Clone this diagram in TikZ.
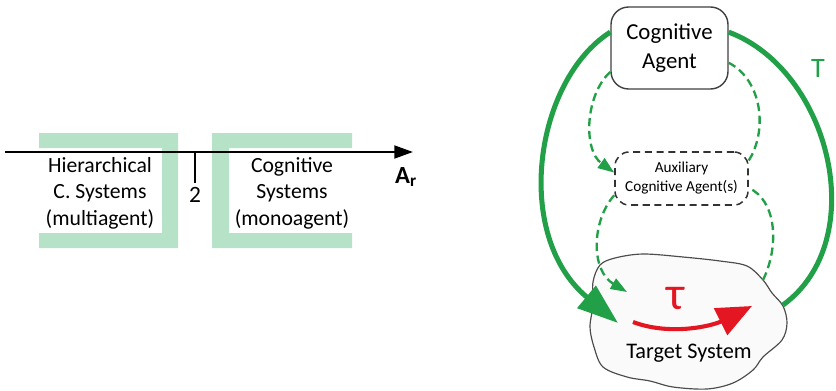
\documentclass[tikz,border=0pt]{standalone}
\usepackage{fontspec}
\setmainfont{Carlito}
\usetikzlibrary{arrows.meta}

\definecolor{agentgreen}{RGB}{34,160,72}
\definecolor{bandgreen}{RGB}{182,226,199}
\definecolor{taured}{RGB}{228,22,34}

\begin{document}
\begin{tikzpicture}[x=0.03cm, y=-0.03cm,
  thickflow/.style={agentgreen, line width=4.3pt},
  dashflow/.style={agentgreen, line width=2pt, dash pattern=on 7pt off 4pt},
  bigtip/.style={-{Triangle[length=35pt, width=24pt]}},
  smalltip/.style={-{Triangle[length=14pt, width=10pt]}},
  agentbox/.style={draw=black!75, line width=1.2pt, rounded corners=15pt, fill=white,
    minimum width=3.51cm, minimum height=2.46cm, inner sep=0pt, align=center,
    font=\fontsize{19.5}{24.8}\selectfont},
  auxbox/.style={draw=black!80, line width=1.3pt, dash pattern=on 6pt off 4pt,
    rounded corners=12pt, fill=white, minimum width=3.99cm, minimum height=1.59cm,
    inner sep=0pt, align=center, font=\fontsize{13}{16.2}\selectfont},
  scaletext/.style={align=center, font=\fontsize{18.5}{22.6}\selectfont}]

\useasboundingbox (0,0) rectangle (836,391);

% === LEFT: scale of A_r ===
\fill[bandgreen] (39,133) -- (178,133) -- (178,248) -- (39,248) -- (39,233) -- (162,233) -- (162,148) -- (39,148) -- cycle;
\fill[bandgreen] (352,133) -- (212,133) -- (212,248) -- (352,248) -- (352,233) -- (229,233) -- (229,148) -- (352,148) -- cycle;

\coordinate (axstart) at (5,152);
\coordinate (axend) at (413,152);
\coordinate (tick) at (195,152);
\draw[line width=2pt, -{Triangle[length=16pt, width=11pt]}] (axstart) -- (axend);
\draw[line width=1.8pt] (tick) -- ++(0,31);

\node[scaletext] (hier) at (100,193) {Hierarchical\\C. Systems\\(multiagent)};
\node[scaletext] (cogsys) at (292,193) {Cognitive\\Systems\\(monoagent)};
\node[font=\fontsize{20}{22}\selectfont] (two) at (195,195) {2};
\node[font=\fontsize{21}{24}\selectfont\bfseries] (ar) at (406,177) {A\textsubscript{r}};

% === RIGHT: agent loop ===
\draw[black!70, line width=1pt, fill=black!2] plot[smooth cycle, tension=0.55] coordinates {
  (593,282) (600,265) (615,258) (643,254) (683,257) (720,261) (747,266) (763,280) (772,293)
  (783,306) (787,323) (782,340) (763,357) (753,370) (733,383) (707,389) (673,387)
  (650,381) (627,377) (603,367) (594,347) (590,327) (593,305)};

\node[agentbox] (ca) at (669.5,48) {Cognitive\\Agent};
\node[auxbox] (aux) at (681.5,178.5) {Auxiliary\\Cognitive Agent(s)};
\node[font=\fontsize{19}{22}\selectfont] (ts) at (689,353) {Target System};

\coordinate (tsthick) at (618,323);
\coordinate (tsright) at (783,305);
\coordinate (tsdash) at (627,292);
\coordinate (tsout) at (763,280);

% thick links
\draw[thickflow, bigtip] (ca.165) .. controls (535,80) and (512,235) .. (tsthick);
\draw[thickflow] (tsright) .. controls (872,240) and (830,70) .. (ca.15);
\node[font=\fontsize{24}{26}\selectfont, agentgreen] (tlabel) at (818,68) {T};

% dashed links via auxiliary agent
\draw[dashflow, smalltip] (ca.202) .. controls (585,95) and (583,150) .. (aux.175);
\draw[dashflow] (aux.15) .. controls (768,130) and (762,80) .. (ca.346);
\draw[dashflow, smalltip] (aux.194) .. controls (592,220) and (590,270) .. (tsdash);
\draw[dashflow] (tsout) .. controls (780,245) and (776,200) .. (aux.352);

% tau arrow
\coordinate (tauA) at (633,322);
\coordinate (tauB) at (752,306);
\draw[taured, line width=3.5pt, -{Triangle[length=30pt, width=25pt]}] (tauA) .. controls (670,336) and (712,326) .. (tauB);
\node[font=\fontsize{40}{42}\selectfont, taured] (tau) at (676,298) {τ};

\end{tikzpicture}
\end{document}
